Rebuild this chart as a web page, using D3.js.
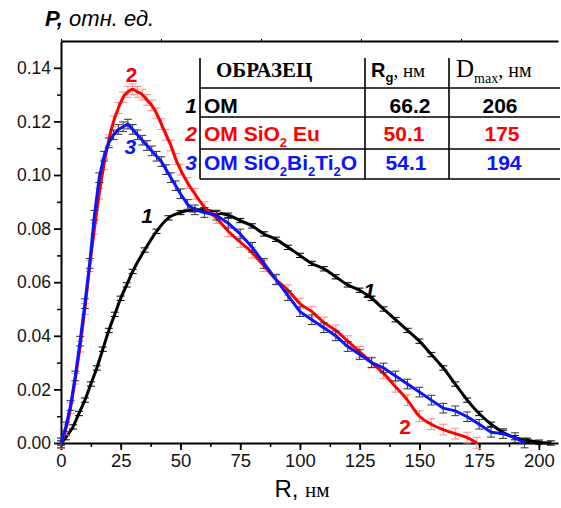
<!DOCTYPE html>
<html>
<head>
<meta charset="utf-8">
<script src="https://cdn.jsdelivr.net/npm/d3@7"></script>
<style>
  body { margin: 0; background: #fff; }
  text { font-family: "Liberation Sans", Arial, sans-serif; }
  .serif { font-family: "Liberation Serif", "Times New Roman", serif; }
</style>
</head>
<body>
<div id="chart"></div>
<script>
var svgWidth = 561;
var svgHeight = 508;

// Curve 1: OM (black)
var r1 = [0, 2, 5, 7.5, 10, 12.5, 15, 17.5, 20, 22.5, 25, 27.5, 30, 35, 40, 45, 50, 55, 60, 65, 70, 75, 80, 85, 90, 95,
  100, 105, 110, 115, 120, 125, 130, 135, 140, 145, 150, 155, 160, 165, 170, 175, 180, 185, 190, 195, 200, 205];
var p1 = [0, 0.002, 0.006, 0.011, 0.016, 0.022, 0.028, 0.035, 0.042, 0.048, 0.054, 0.059, 0.064, 0.072, 0.079, 0.084,
  0.086, 0.087, 0.087, 0.086, 0.085, 0.083, 0.081, 0.078, 0.076, 0.073, 0.070, 0.067, 0.065, 0.062, 0.059, 0.057,
  0.054, 0.050, 0.046, 0.042, 0.038, 0.033, 0.028, 0.022, 0.016, 0.011, 0.007, 0.004, 0.002, 0.001, 0.0003, 0];

// Curve 2: OM SiO2 Eu (red)
var r2 = [0, 2, 4, 6, 8, 10, 12, 14, 16, 18, 20, 22, 24, 26, 28, 30, 32, 34, 36, 38, 40, 42, 44, 46, 48, 50, 53, 56,
  60, 65, 70, 75, 80, 85, 90, 95, 100, 105, 110, 115, 120, 125, 130, 135, 140, 145, 150, 155, 160, 165, 170, 174];
var p2 = [0, 0.005, 0.013, 0.024, 0.036, 0.050, 0.066, 0.080, 0.093, 0.104, 0.113, 0.120, 0.125, 0.129, 0.131, 0.132,
  0.131, 0.130, 0.128, 0.126, 0.123, 0.119, 0.115, 0.111, 0.106, 0.102, 0.097, 0.093, 0.088, 0.084, 0.079, 0.075,
  0.071, 0.066, 0.061, 0.057, 0.052, 0.049, 0.045, 0.042, 0.038, 0.034, 0.030, 0.026, 0.021, 0.016, 0.010, 0.007,
  0.005, 0.0035, 0.002, 0];

// Curve 3: OM SiO2Bi2Ti2O (blue)
var r3 = [0, 2, 4, 6, 8, 10, 12, 14, 16, 18, 20, 22, 24, 26, 28, 30, 32, 34, 36, 38, 40, 42, 44, 46, 48, 50, 53, 56,
  60, 65, 70, 75, 80, 85, 90, 95, 100, 105, 110, 115, 120, 125, 130, 135, 140, 145, 150, 155, 160, 165, 170, 175,
  180, 185, 190, 194];
var p3 = [0, 0.006, 0.014, 0.025, 0.038, 0.052, 0.067, 0.085, 0.099, 0.107, 0.112, 0.115, 0.117, 0.118, 0.119, 0.117,
  0.115, 0.113, 0.111, 0.109, 0.107, 0.105, 0.102, 0.099, 0.096, 0.093, 0.089, 0.087, 0.086, 0.085, 0.082, 0.078,
  0.073, 0.067, 0.061, 0.055, 0.049, 0.046, 0.043, 0.040, 0.036, 0.033, 0.030, 0.028, 0.025, 0.022, 0.019, 0.016,
  0.013, 0.012, 0.0098, 0.007, 0.004, 0.0035, 0.002, 0];

// error half-widths
var err1 = 0.0008;
var err2 = 0.002;
var err3 = 0.0018;

// table
var tableNames = ["OM", "OM SiO2 Eu", "OM SiO2Bi2Ti2O"];
var tableRg = ["66.2", "50.1", "54.1"];
var tableDmax = ["206", "175", "194"];

var xTicks = [0, 25, 50, 75, 100, 125, 150, 175, 200];
var yTicks = [0, 0.02, 0.04, 0.06, 0.08, 0.10, 0.12, 0.14];

var svg = d3.select("#chart").append("svg")
  .attr("width", svgWidth)
  .attr("height", svgHeight);

var x = d3.scaleLinear().domain([0, 208]).range([61, 558]);
var y = d3.scaleLinear().domain([0, 0.15]).range([443, 41]);

// axes
var xMinor = d3.range(0, 208, 12.5);
svg.append("g")
  .attr("transform", "translate(0,443)")
  .call(d3.axisBottom(x).tickValues(xMinor).tickSize(4).tickFormat(""))
  .call(g => g.select(".domain").remove())
  .selectAll("line").attr("stroke-width", 1.5);

svg.append("g")
  .attr("transform", "translate(0,443)")
  .call(d3.axisBottom(x).tickValues(xTicks).tickSize(7).tickSizeOuter(0).tickPadding(4).tickFormat(d3.format("d")))
  .call(g => g.select(".domain").attr("stroke-width", 2))
  .call(g => g.selectAll("line").attr("stroke-width", 1.8))
  .call(g => g.selectAll("text").attr("font-size", 18.5).attr("fill", "#111"));

var yMinor = d3.range(0.01, 0.15, 0.02);
svg.append("g")
  .attr("transform", "translate(61,0)")
  .call(d3.axisLeft(y).tickValues(yMinor).tickSize(4).tickFormat(""))
  .call(g => g.select(".domain").remove())
  .selectAll("line").attr("stroke-width", 1.5);

svg.append("g")
  .attr("transform", "translate(61,0)")
  .call(d3.axisLeft(y).tickValues(yTicks).tickSize(7).tickSizeOuter(0).tickPadding(3).tickFormat(d3.format(".2f")))
  .call(g => g.select(".domain").attr("stroke-width", 2))
  .call(g => g.selectAll("line").attr("stroke-width", 1.8))
  .call(g => g.selectAll("text").attr("font-size", 17.5).attr("fill", "#111"));

// top frame line
var xTop = d3.scaleLinear().domain([0, 4.97]).range([61, 558]);
svg.append("g")
  .attr("transform", "translate(0,41)")
  .call(d3.axisTop(xTop).tickValues([0, 1, 2, 3, 4]).tickSize(2).tickSizeOuter(0).tickFormat(""))
  .call(g => g.select(".domain").attr("stroke-width", 2));

// error bars + curves
function drawSeries(rs, ps, err, lineColor, barColor, curve) {
  var pts = rs.map((r, i) => ({ r: r, p: ps[i] }));
  var bars = svg.append("g").attr("stroke", barColor).attr("stroke-width", 1);
  bars.selectAll(".ev").data(pts).enter().append("line")
    .attr("x1", d => x(d.r)).attr("x2", d => x(d.r))
    .attr("y1", d => y(d.p - err)).attr("y2", d => y(d.p + err));
  bars.selectAll(".ct").data(pts).enter().append("line")
    .attr("x1", d => x(d.r) - 4).attr("x2", d => x(d.r) + 4)
    .attr("y1", d => y(d.p + err)).attr("y2", d => y(d.p + err));
  bars.selectAll(".cb").data(pts).enter().append("line")
    .attr("x1", d => x(d.r) - 4).attr("x2", d => x(d.r) + 4)
    .attr("y1", d => y(d.p - err)).attr("y2", d => y(d.p - err));

  var line = d3.line().x(d => x(d.r)).y(d => y(d.p)).curve(curve);
  svg.append("path")
    .datum(pts)
    .attr("d", line)
    .attr("fill", "none")
    .attr("stroke", lineColor)
    .attr("stroke-width", 3)
    .attr("stroke-linejoin", "round");
}

drawSeries(r1, p1, err1, "#000", "#000", d3.curveMonotoneX);
drawSeries(r2, p2, err2, "#ff0000", "#ff8c8c", d3.curveMonotoneX);
drawSeries(r3, p3, err3, "#0a14ff", "#333", d3.curveLinear);

// curve labels
function curveLabel(px, py, t, color, italic) {
  svg.append("text")
    .attr("x", px).attr("y", py)
    .attr("text-anchor", "middle")
    .attr("font-size", 21)
    .attr("font-weight", "bold")
    .attr("font-style", italic ? "italic" : "normal")
    .attr("fill", color)
    .text(t);
}
curveLabel(x(29.5), 82, "2", "#ff0000", false);
curveLabel(x(29), 154, "3", "#0a14ff", true);
curveLabel(x(36), 223, "1", "#000", true);
curveLabel(x(129), 298, "1", "#000", true);
curveLabel(x(144), 434, "2", "#ff0000", false);

// y title
var yTitle = svg.append("text").attr("x", 45).attr("y", 26).attr("font-size", 22).attr("font-style", "italic");
yTitle.append("tspan").attr("font-weight", "bold").text("P,");
yTitle.append("tspan").text(" отн. ед.");

// x title
var xTitle = svg.append("text").attr("x", 302).attr("y", 497).attr("text-anchor", "middle").attr("font-size", 24);
xTitle.append("tspan").text("R, ");
xTitle.append("tspan").attr("class", "serif").attr("font-size", 21).text("нм");

// table
var tLeft = 200, tRight = 560, c1 = 365, c2 = 449;
var rowLines = [88, 117, 149, 179];
var tg = svg.append("g").attr("stroke", "#000").attr("stroke-width", 1.6);
[tLeft, c1, c2].forEach(function(cx) {
  tg.append("line").attr("x1", cx).attr("x2", cx).attr("y1", 58).attr("y2", 179);
});
rowLines.forEach(function(ly) {
  tg.append("line").attr("x1", tLeft).attr("x2", tRight).attr("y1", ly).attr("y2", ly);
});

svg.append("text").attr("class", "serif").attr("x", 216).attr("y", 77)
  .attr("font-size", 21).attr("font-weight", "bold").text("ОБРАЗЕЦ");

var hRg = svg.append("text").attr("x", 371).attr("y", 77).attr("font-size", 20);
hRg.append("tspan").attr("font-weight", "bold").text("R");
hRg.append("tspan").attr("font-weight", "bold").attr("font-size", 13).attr("dy", 5).text("g");
hRg.append("tspan").attr("class", "serif").attr("dy", -5).attr("font-size", 19).text(", нм");

var hD = svg.append("text").attr("class", "serif").attr("x", 456).attr("y", 77).attr("font-size", 25);
hD.append("tspan").text("D");
hD.append("tspan").attr("font-size", 14).attr("dy", 6).text("max");
hD.append("tspan").attr("font-size", 20).attr("dy", -6).text(", нм");

var rowColors = ["#000", "#ff0000", "#0a14ff"];
var rowBase = [113, 141, 170];
var rgCenter = [410, 404, 406];
var dmCenter = [500, 502, 504];
var subParts = [
  [["OM", false]],
  [["OM SiO", false], ["2", true], [" Eu", false]],
  [["OM SiO", false], ["2", true], ["Bi", false], ["2", true], ["Ti", false], ["2", true], ["O", false]]
];
tableNames.forEach(function(name, i) {
  svg.append("text").attr("x", 197).attr("y", rowBase[i]).attr("text-anchor", "end")
    .attr("font-size", 21).attr("font-weight", "bold").attr("font-style", "italic")
    .attr("fill", rowColors[i]).text(i + 1);
  var t = svg.append("text").attr("x", 204).attr("y", rowBase[i])
    .attr("font-size", 21).attr("font-weight", "bold").attr("fill", rowColors[i]);
  var down = false;
  subParts[i].forEach(function(part) {
    var ts = t.append("tspan").text(part[0]);
    if (part[1]) { ts.attr("font-size", 13).attr("dy", 6); down = true; }
    else if (down) { ts.attr("dy", -6); down = false; }
  });
  svg.append("text").attr("x", rgCenter[i]).attr("y", rowBase[i]).attr("text-anchor", "middle")
    .attr("font-size", 21).attr("font-weight", "bold").attr("fill", rowColors[i]).text(tableRg[i]);
  svg.append("text").attr("x", dmCenter[i]).attr("y", rowBase[i]).attr("text-anchor", "middle")
    .attr("font-size", 21).attr("font-weight", "bold").attr("fill", rowColors[i]).text(tableDmax[i]);
});
</script>
</body>
</html>
